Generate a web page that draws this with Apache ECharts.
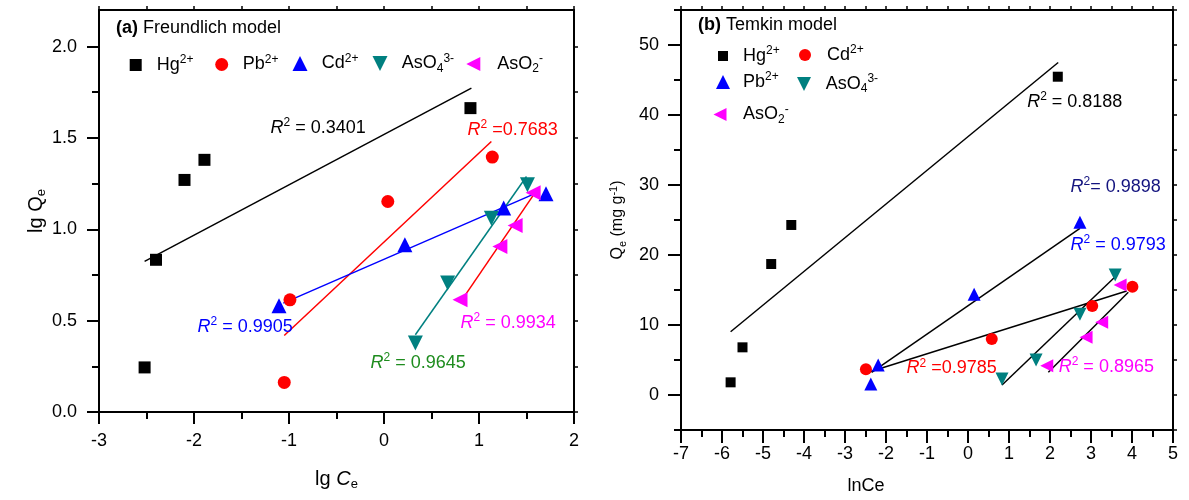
<!DOCTYPE html>
<html><head><meta charset="utf-8">
<script src="https://cdn.jsdelivr.net/npm/echarts@6/dist/echarts.min.js"></script>
<style>html,body{margin:0;padding:0;background:#fff}#c{width:1189px;height:500px}</style>
</head><body><div id="c"></div>
<script>
// ---------- Panel (a) Freundlich model : lg Ce vs lg Qe ----------
const aHgX  = [-2.52, -2.40, -2.10, -1.89, 0.91];
const aHgY  = [0.244, 0.833, 1.27, 1.38, 1.663];
const aPbX  = [-1.05, -0.99, 0.04, 1.14];
const aPbY  = [0.162, 0.614, 1.152, 1.395];
const aCdX  = [-1.105, 0.22, 1.26, 1.705];
const aCdY  = [0.582, 0.915, 1.116, 1.194];
const aAs4X = [0.33, 0.67, 1.13, 1.51];
const aAs4Y = [0.377, 0.706, 1.061, 1.244];
const aAs2X = [0.80, 1.22, 1.38, 1.57];
const aAs2Y = [0.614, 0.906, 1.02, 1.20];
// fitted lines (end points)
const aFitHgX = [-2.52, 0.92],  aFitHgY = [0.824, 1.772];
const aFitPbX = [-1.05, 1.13],  aFitPbY = [0.419, 1.480];
const aFitCdX = [-1.06, 1.60],  aFitCdY = [0.596, 1.198];
const aFitAs4X = [0.33, 1.50],  aFitAs4Y = [0.423, 1.289];
const aFitAs2X = [0.81, 1.61],  aFitAs2Y = [0.605, 1.216];
// R^2 notes: text and anchor (data units)
const aNoteText = [' = 0.3401', ' =0.7683', ' = 0.9905', ' = 0.9645', ' = 0.9934'];
const aNoteX = [-1.2, 0.874, -1.968, -0.147, 0.80];
const aNoteY = [1.556, 1.544, 0.467, 0.270, 0.489];
// ticks
const aXTicks = [-3, -2, -1, 0, 1, 2];
const aXMinor = [-2.5, -1.5, -0.5, 0.5, 1.5];
const aYTicks = [0, 0.5, 1.0, 1.5, 2.0];
const aYMinor = [0.25, 0.75, 1.25, 1.75];

// ---------- Panel (b) Temkin model : lnCe vs Qe ----------
const bHgX  = [-5.79, -5.50, -4.80, -4.31, 2.19];
const bHgY  = [1.81, 6.81, 18.71, 24.29, 45.47];
const bCdX  = [-2.49, 0.58, 3.03, 4.01];
const bCdY  = [3.67, 8.0, 12.71, 15.47];
const bPbX  = [-2.37, -2.19, 0.15, 2.73];
const bPbY  = [1.57, 4.29, 14.39, 24.67];
const bAs4X = [0.83, 1.66, 2.73, 3.59];
const bAs4Y = [2.29, 5.0, 11.53, 17.14];
const bAs2X = [1.92, 2.88, 3.26, 3.71];
const bAs2Y = [4.19, 8.24, 10.39, 15.71];
const bFitHgX = [-5.79, 2.20], bFitHgY = [9.04, 47.5];
const bFitPbX = [-2.35, 2.73], bFitPbY = [3.24, 23.81];
const bFitCdX = [-2.47, 3.87], bFitCdY = [3.19, 14.86];
const bFitAs4X = [0.83, 3.59], bFitAs4Y = [1.43, 16.9];
const bFitAs2X = [1.96, 3.91], bFitAs2Y = [3.24, 14.67];
const bNoteText = [' = 0.8188', '= 0.9898', ' = 0.9793', ' =0.9785', ' = 0.8965'];
const bNoteX = [1.43, 2.49, 2.49, -1.51, 2.20];
const bNoteY = [41.9, 29.76, 21.43, 3.81, 4.04];
const bXTicks = [-7, -6, -5, -4, -3, -2, -1, 0, 1, 2, 3, 4, 5];
const bXMinor = [-6.5, -5.5, -4.5, -3.5, -2.5, -1.5, -0.5, 0.5, 1.5, 2.5, 3.5, 4.5];
const bYTicks = [0, 10, 20, 30, 40, 50];
const bYMinor = [-5, 5, 15, 25, 35, 45, 55];

// ---------- helpers ----------
const FF = '"Liberation Sans", Arial, sans-serif';
const pairs = (xs, ys) => xs.map((x, i) => [x, ys[i]]);
const richBase = (fs) => ({
  n: {fontSize: fs, fontFamily: FF, lineHeight: fs + 4},
  i: {fontSize: fs, fontFamily: FF, fontStyle: 'italic', lineHeight: fs + 4},
  p: {fontSize: Math.round(fs * 0.66), fontFamily: FF, lineHeight: Math.round(fs * 0.66), verticalAlign: 'top'},
  b: {fontSize: Math.round(fs * 0.66), fontFamily: FF, lineHeight: Math.round(fs * 0.66), verticalAlign: 'bottom'}
});
const C = {black: '#000000', red: '#ff0000', blue: '#0000ff', teal: '#008080', mag: '#ff00ff', green: '#1e8c1e', navy: '#14147f'};

const legendLabel = {
  'a-Hg': '{n|Hg}{p|2+}', 'a-Pb': '{n|Pb}{p|2+}', 'a-Cd': '{n|Cd}{p|2+}',
  'a-As4': '{n|AsO}{b|4}{p|3-}', 'a-As2': '{n|AsO}{b|2}{p|-}',
  'b-Hg': '{n|Hg}{p|2+}', 'b-Pb': '{n|Pb}{p|2+}', 'b-Cd': '{n|Cd}{p|2+}',
  'b-As4': '{n|AsO}{b|4}{p|3-}', 'b-As2': '{n|AsO}{b|2}{p|-}'
};
const ICON_DOWN = 'path://M0,0L10,0L5,10Z';
const ICON_LEFT = 'path://M10,0L10,10L0,5Z';

// icon centred at (cx, cy) with size s; text starting at cx + d
function legendItem(name, cx, cy, s, d, icon) {
  const item = icon ? {name, icon} : name;
  return {
    data: [item], left: cx - s / 2, top: cy - s / 2, padding: 0,
    itemWidth: s, itemHeight: s, selectedMode: false, symbolKeepAspect: true,
    formatter: (nm) => legendLabel[nm],
    textStyle: {color: '#000', fontFamily: FF, fontSize: 18, padding: [0, 0, 0, Math.max(0, d - s / 2 - 5)], rich: richBase(18)}
  };
}

function axisSet(gridIndex, dim, min, max, major, minor, opts) {
  const lineStyle = {color: '#000', width: 2};
  const mainPos = dim === 'x' ? 'bottom' : 'left';
  const mirrorPos = dim === 'x' ? 'top' : 'right';
  return [
    Object.assign({
      type: 'value', gridIndex, min, max, position: mainPos,
      axisLine: {show: true, onZero: false, lineStyle},
      axisTick: {show: true, length: opts.majorLen, customValues: major, lineStyle: {color: '#000', width: 2}},
      axisLabel: {show: true, customValues: major, margin: opts.margin, color: '#000', fontSize: opts.labelSize, fontFamily: FF, formatter: opts.fmt},
      splitLine: {show: false}
    }, opts.extra || {}),
    {
      type: 'value', gridIndex, min, max, position: mainPos,
      axisLine: {show: false, onZero: false},
      axisTick: {show: true, length: opts.minorLen, customValues: minor, lineStyle: {color: '#000', width: 2}},
      axisLabel: {show: false}, splitLine: {show: false}
    },
    {
      type: 'value', gridIndex, min, max, position: mirrorPos,
      axisLine: {show: true, onZero: false, lineStyle},
      axisTick: {show: true, length: 4, customValues: major.concat(minor), lineStyle: {color: '#000', width: 1.5}},
      axisLabel: {show: false}, splitLine: {show: false}
    }
  ];
}

const xAxes = [].concat(
  axisSet(0, 'x', -3, 2, aXTicks, aXMinor, {majorLen: 12, minorLen: 7, margin: 20, labelSize: 18, fmt: v => String(v),
    extra: {name: '{n|lg }{i|C}{b|e}', nameLocation: 'middle', nameGap: 55,
      nameTextStyle: {color: '#000', fontFamily: FF, fontSize: 20, rich: richBase(20)}}}),
  axisSet(1, 'x', -7, 5, bXTicks, bXMinor, {majorLen: 13, minorLen: 7, margin: 15, labelSize: 18, fmt: v => String(v),
    extra: {name: '{n|lnCe}', nameLocation: 'middle', nameGap: 45,
      nameTextStyle: {color: '#000', fontFamily: FF, fontSize: 18, padding: [0, 122, 0, 0], rich: richBase(18)}}})
);
const yAxes = [].concat(
  axisSet(0, 'y', 0, 2.2, aYTicks, aYMinor, {majorLen: 12, minorLen: 7, margin: 22, labelSize: 18, fmt: v => v.toFixed(1),
    extra: {name: '{n|lg Q}{b|e}', nameLocation: 'middle', nameGap: 51,
      nameTextStyle: {color: '#000', fontFamily: FF, fontSize: 20, rich: richBase(20)}}}),
  axisSet(1, 'y', -5, 55, bYTicks, bYMinor, {majorLen: 13, minorLen: 7, margin: 22, labelSize: 18, fmt: v => String(v),
    extra: {name: '{n|Q}{b|e}{n| (mg g}{p|-1}{n|)}', nameLocation: 'middle', nameGap: 53,
      nameTextStyle: {color: '#000', fontFamily: FF, fontSize: 16, rich: richBase(16)}}})
);

function scatter(name, xs, ys, axis, symbol, size, rot, color) {
  return {
    type: 'scatter', name, xAxisIndex: axis, yAxisIndex: axis, z: 3,
    symbol, symbolSize: size, symbolRotate: rot, symbolKeepAspect: true,
    itemStyle: {color, opacity: 1}, data: pairs(xs, ys)
  };
}
function fit(name, xs, ys, axis, color, note, nx, ny, noteColor) {
  return {
    type: 'line', name, xAxisIndex: axis, yAxisIndex: axis, z: 2,
    symbol: 'none', silent: true,
    lineStyle: {color, width: 1.5}, data: pairs(xs, ys),
    markPoint: {
      symbol: 'circle', symbolSize: 1, itemStyle: {color: 'transparent'}, silent: true,
      data: [{coord: [nx, ny]}],
      label: {show: true, position: 'right', distance: 0, color: noteColor,
        formatter: '{i|R}{p|2}{n|' + note + '}', rich: richBase(18)}
    }
  };
}

const series = [
  fit('a-fitHg', aFitHgX, aFitHgY, 0, C.black, aNoteText[0], aNoteX[0], aNoteY[0], C.black),
  fit('a-fitPb', aFitPbX, aFitPbY, 0, C.red, aNoteText[1], aNoteX[1], aNoteY[1], C.red),
  fit('a-fitCd', aFitCdX, aFitCdY, 0, C.blue, aNoteText[2], aNoteX[2], aNoteY[2], C.blue),
  fit('a-fitAs4', aFitAs4X, aFitAs4Y, 0, C.teal, aNoteText[3], aNoteX[3], aNoteY[3], C.green),
  fit('a-fitAs2', aFitAs2X, aFitAs2Y, 0, C.red, aNoteText[4], aNoteX[4], aNoteY[4], C.mag),
  scatter('a-Hg', aHgX, aHgY, 0, 'rect', 12, 0, C.black),
  scatter('a-Pb', aPbX, aPbY, 0, 'circle', 13, 0, C.red),
  scatter('a-Cd', aCdX, aCdY, 0, 'triangle', 15, 0, C.blue),
  scatter('a-As4', aAs4X, aAs4Y, 0, 'triangle', 15, 180, C.teal),
  scatter('a-As2', aAs2X, aAs2Y, 0, 'triangle', 15, 90, C.mag),

  fit('b-fitHg', bFitHgX, bFitHgY, 3, C.black, bNoteText[0], bNoteX[0], bNoteY[0], C.black),
  fit('b-fitPb', bFitPbX, bFitPbY, 3, C.black, bNoteText[1], bNoteX[1], bNoteY[1], C.navy),
  fit('b-fitCd', bFitCdX, bFitCdY, 3, C.black, bNoteText[2], bNoteX[2], bNoteY[2], C.blue),
  fit('b-fitAs4', bFitAs4X, bFitAs4Y, 3, C.black, bNoteText[3], bNoteX[3], bNoteY[3], C.red),
  fit('b-fitAs2', bFitAs2X, bFitAs2Y, 3, C.black, bNoteText[4], bNoteX[4], bNoteY[4], C.mag),
  scatter('b-Hg', bHgX, bHgY, 3, 'rect', 10, 0, C.black),
  scatter('b-Cd', bCdX, bCdY, 3, 'circle', 12, 0, C.red),
  scatter('b-Pb', bPbX, bPbY, 3, 'triangle', 13, 0, C.blue),
  scatter('b-As4', bAs4X, bAs4Y, 3, 'triangle', 13, 180, C.teal),
  scatter('b-As2', bAs2X, bAs2Y, 3, 'triangle', 13, 90, C.mag)
];

const option = {
  animation: false,
  backgroundColor: '#fff',
  title: [
    {text: '{b|(a)} {n|Freundlich model}', left: 116, top: 19, padding: 0,
      textStyle: {fontWeight: 'normal', rich: {b: {fontSize: 18, fontWeight: 'bold', fontFamily: FF, color: '#000'}, n: {fontSize: 18, fontFamily: FF, color: '#000'}}}},
    {text: '{b|(b)} {n|Temkin model}', left: 698, top: 16, padding: 0,
      textStyle: {fontWeight: 'normal', rich: {b: {fontSize: 18, fontWeight: 'bold', fontFamily: FF, color: '#000'}, n: {fontSize: 18, fontFamily: FF, color: '#000'}}}}
  ],
  legend: [
    legendItem('a-Hg', 135.7, 60, 12, 21),
    legendItem('a-Pb', 221.7, 60, 13, 21),
    legendItem('a-Cd', 300, 60, 15, 21.7),
    legendItem('a-As4', 380, 60, 15, 21.7, ICON_DOWN),
    legendItem('a-As2', 473.3, 60, 14, 24, ICON_LEFT),
    legendItem('b-Hg', 723, 50, 10, 20),
    legendItem('b-Cd', 805, 50, 12, 22),
    legendItem('b-Pb', 723, 78, 14, 20),
    legendItem('b-As4', 804, 80, 14, 21.7, ICON_DOWN),
    legendItem('b-As2', 720, 110, 13, 23, ICON_LEFT)
  ],
  grid: [
    {left: 99, top: 10, width: 475, height: 402, containLabel: false},
    {left: 681, top: 10, width: 492, height: 420, containLabel: false}
  ],
  xAxis: xAxes,
  yAxis: yAxes,
  series
};

const chart = echarts.init(document.getElementById('c'), null, {renderer: 'canvas'});
chart.setOption(option);
</script>
</body></html>
